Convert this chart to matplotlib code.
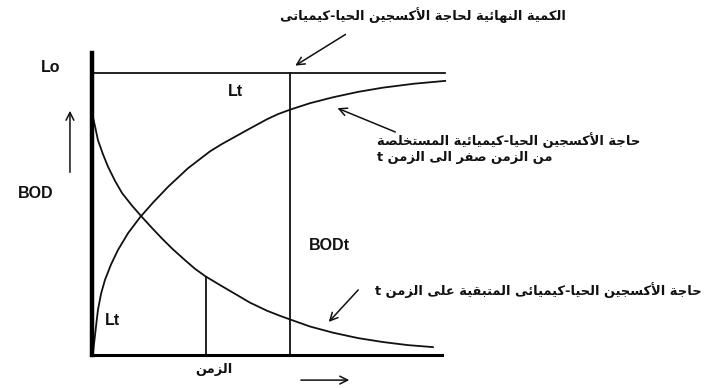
import numpy as np
import matplotlib.pyplot as plt

# --- Arabic shaping (matplotlib has no complex text layout) -----------------
# isolated, final, initial, medial presentation forms
FORMS = {
    'ا': (0xFE8D, 0xFE8E, None, None),
    'أ': (0xFE83, 0xFE84, None, None),
    'د': (0xFEA9, 0xFEAA, None, None),
    'ر': (0xFEAD, 0xFEAE, None, None),
    'ز': (0xFEAF, 0xFEB0, None, None),
    'ة': (0xFE93, 0xFE94, None, None),
    'ى': (0xFEEF, 0xFEF0, None, None),
    'ب': (0xFE8F, 0xFE90, 0xFE91, 0xFE92),
    'ت': (0xFE95, 0xFE96, 0xFE97, 0xFE98),
    'ج': (0xFE9D, 0xFE9E, 0xFE9F, 0xFEA0),
    'ح': (0xFEA1, 0xFEA2, 0xFEA3, 0xFEA4),
    'خ': (0xFEA5, 0xFEA6, 0xFEA7, 0xFEA8),
    'س': (0xFEB1, 0xFEB2, 0xFEB3, 0xFEB4),
    'ص': (0xFEB9, 0xFEBA, 0xFEBB, 0xFEBC),
    'ع': (0xFEC9, 0xFECA, 0xFECB, 0xFECC),
    'ف': (0xFED1, 0xFED2, 0xFED3, 0xFED4),
    'ق': (0xFED5, 0xFED6, 0xFED7, 0xFED8),
    'ك': (0xFED9, 0xFEDA, 0xFEDB, 0xFEDC),
    'ل': (0xFEDD, 0xFEDE, 0xFEDF, 0xFEE0),
    'م': (0xFEE1, 0xFEE2, 0xFEE3, 0xFEE4),
    'ن': (0xFEE5, 0xFEE6, 0xFEE7, 0xFEE8),
    'ه': (0xFEE9, 0xFEEA, 0xFEEB, 0xFEEC),
    'ي': (0xFEF1, 0xFEF2, 0xFEF3, 0xFEF4),
    'ئ': (0xFE89, 0xFE8A, 0xFE8B, 0xFE8C),
    'لا': (0xFEFB, 0xFEFC, None, None),
    'لأ': (0xFEF7, 0xFEF8, None, None),
}


def shape(text):
    # merge lam + alef into one ligature token
    chars = []
    i = 0
    while i < len(text):
        if text[i] == 'ل' and i + 1 < len(text) and text[i:i + 2] in FORMS:
            chars.append(text[i:i + 2])
            i += 2
        else:
            chars.append(text[i])
            i += 1
    out = []
    for i, c in enumerate(chars):
        if c not in FORMS:
            out.append(c)
            continue
        iso, fin, ini, med = FORMS[c]
        prev = chars[i - 1] if i > 0 else None
        nxt = chars[i + 1] if i + 1 < len(chars) else None
        jp = prev in FORMS and FORMS[prev][2] is not None
        jn = ini is not None and nxt in FORMS
        if jp and jn:
            code = med
        elif jp:
            code = fin
        elif jn:
            code = ini
        else:
            code = iso
        out.append(chr(code))
    return ''.join(reversed(out))


# --- data -------------------------------------------------------------------
# time axis in arbitrary units, oxygen demand as a fraction of Lo
t_remain = [0.0, 0.09, 0.17, 0.31, 0.46, 0.66, 0.86, 1.14, 1.43, 1.71, 2.0, 2.31,
            2.66, 2.94, 3.23, 3.63, 4.03, 4.51, 5.0, 5.37, 5.66, 6.23, 6.89, 7.6,
            8.31, 9.03, 9.74]
L_remain = [0.858, 0.809, 0.762, 0.713, 0.667, 0.617, 0.574, 0.530, 0.489, 0.451,
            0.413, 0.375, 0.336, 0.306, 0.280, 0.250, 0.221, 0.186, 0.157, 0.139,
            0.126, 0.101, 0.079, 0.060, 0.046, 0.035, 0.028]

t_exert = [0.03, 0.06, 0.09, 0.13, 0.17, 0.26, 0.37, 0.54, 0.74, 1.03, 1.37, 1.74,
           2.17, 2.74, 3.37, 3.71, 4.03, 4.51, 5.0, 5.31, 5.66, 6.23, 6.89, 7.6,
           8.31, 9.2, 10.09]
bod_exert = [0.011, 0.042, 0.074, 0.118, 0.160, 0.218, 0.266, 0.320, 0.372, 0.432,
             0.488, 0.540, 0.596, 0.662, 0.722, 0.748, 0.770, 0.803, 0.836, 0.854,
             0.870, 0.893, 0.914, 0.933, 0.948, 0.962, 0.972]

Lo = 1.0
t_mark = 3.26      # short marker under the remaining curve
t_bod = 5.66       # time t where BODt is read
t_end = 10.09

lbl_top = 'الكمية النهائية لحاجة الأكسجين الحيا-كيمياتى'
lbl_mid1 = 'حاجة الأكسجين الحيا-كيميائية المستخلصة'
lbl_mid2 = 'من الزمن صفر الى الزمن t'
lbl_low = 'حاجة الأكسجين الحيا-كيميائى المتبقية على الزمن t'
lbl_time = 'الزمن'

# --- figure -----------------------------------------------------------------
fig = plt.figure(figsize=(7.05, 3.88), dpi=100)
ax = fig.add_axes([92 / 705, 33 / 388, 358 / 705, 302 / 388])
ax.set_xlim(0, 358 / 35)
ax.set_ylim(0, 302 / 282)
ax.set_xticks([])
ax.set_yticks([])
for s in ['top', 'right']:
    ax.spines[s].set_visible(False)
ax.spines['left'].set_linewidth(3.2)
ax.spines['bottom'].set_linewidth(2.2)
ax.spines['bottom'].set_bounds(0, 10.0)

lc = '#111111'
ax.plot(t_remain, L_remain, color=lc, lw=1.3)
ax.plot(t_exert, bod_exert, color=lc, lw=1.3)
ax.plot([0, t_end], [Lo, Lo], color=lc, lw=1.3)
ax.plot([t_bod, t_bod], [0, Lo], color=lc, lw=1.3)
ax.plot([t_mark, t_mark], [0, np.interp(t_mark, t_remain, L_remain)], color=lc, lw=1.3)

lat = dict(family='Liberation Sans', fontweight='bold', fontsize=11.5, color=lc)
ara = dict(family=['DejaVu Sans'], fontweight='bold', fontsize=9.4, color=lc)

ax.text(-1.17, 1.018, 'Lo', ha='center', va='center', clip_on=False, **lat)
ax.text(-1.6, 0.571, 'BOD', ha='center', va='center', clip_on=False, **lat)
ax.text(0.57, 0.121, 'Lt', ha='center', va='center', **lat)
ax.text(4.11, 0.936, 'Lt', ha='center', va='center', **lat)
ax.text(6.77, 0.390, 'BODt', ha='center', va='center', **lat)

ax.text(3.49, -0.053, shape(lbl_time), ha='center', va='center', clip_on=False, **ara)
ax.text(9.46, 1.206, shape(lbl_top), ha='center', va='center', clip_on=False, **ara)
ax.text(8.14, 0.762, shape(lbl_mid1), ha='left', va='center', clip_on=False, **ara)
ax.text(8.14, 0.699, shape(lbl_mid2), ha='left', va='center', clip_on=False, **ara)
ax.text(17.43, 0.230, shape(lbl_low), ha='right', va='center', clip_on=False, **ara)

arrow = dict(arrowstyle='->', color=lc, lw=1.1, mutation_scale=14)
ax.annotate('', xy=(5.74, 1.021), xytext=(7.31, 1.142), arrowprops=arrow, annotation_clip=False)
ax.annotate('', xy=(6.94, 0.879), xytext=(8.74, 0.787), arrowprops=arrow, annotation_clip=False)
ax.annotate('', xy=(6.71, 0.110), xytext=(7.66, 0.238), arrowprops=arrow, annotation_clip=False)
ax.annotate('', xy=(7.43, -0.089), xytext=(5.89, -0.089), arrowprops=arrow, annotation_clip=False)
ax.annotate('', xy=(-0.63, 0.876), xytext=(-0.63, 0.638), arrowprops=arrow, annotation_clip=False)

fig.savefig('out.png', dpi=100)
